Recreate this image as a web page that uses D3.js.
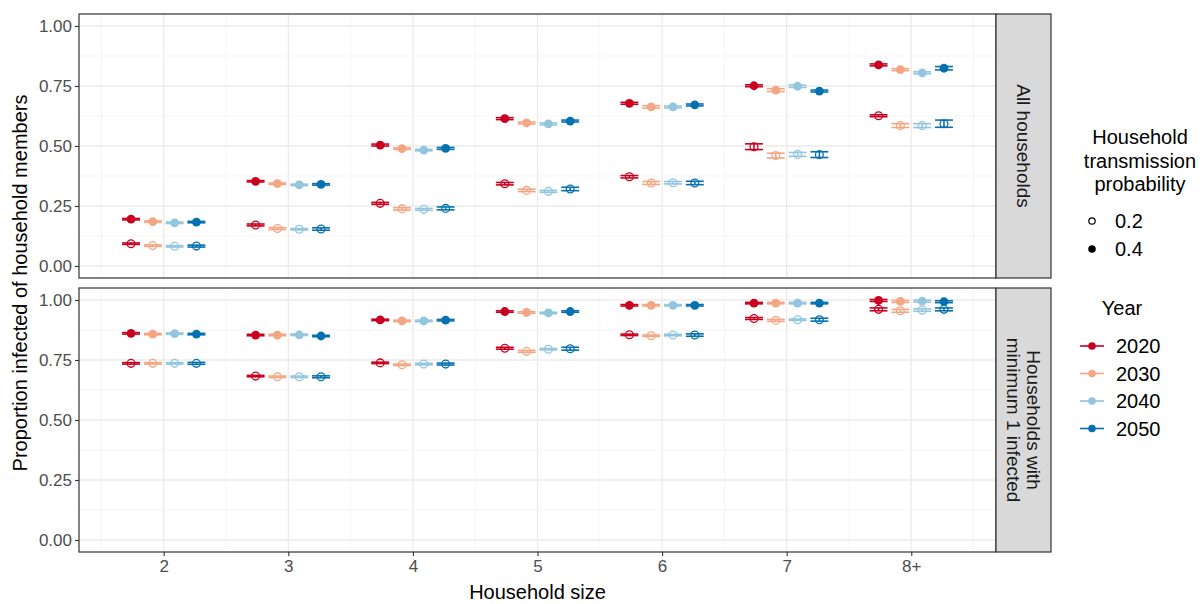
<!DOCTYPE html>
<html>
<head>
<meta charset="utf-8">
<script src="https://cdn.jsdelivr.net/npm/d3@7"></script>
<style>
    body { margin: 0; background: #fff; }
    svg { font-family: "Liberation Sans", Arial, sans-serif; }
    .grid-major { stroke: #ebebeb; stroke-width: 1.3; }
    .grid-minor { stroke: #f3f3f3; stroke-width: 0.8; }
    .tick-label { fill: #4d4d4d; font-size: 17px; }
    .axis-title { fill: #000; font-size: 20px; }
    .strip-text { fill: #1a1a1a; font-size: 19px; }
    .legend-text { fill: #000; font-size: 20px; }
</style>
</head>
<body>
<svg id="chart" width="1203" height="604"></svg>
<script>
// Categories
const sizes = ['2', '3', '4', '5', '6', '7', '8+'];
const years = ['2020', '2030', '2040', '2050'];
const yearColors = ['#CA0020', '#F4A582', '#92C5DE', '#0571B0'];
const probs = ['0.2', '0.4'];
const panelLabels = [['All households'], ['Households with', 'minimum 1 infected']];
const yTicks = [0, 0.25, 0.5, 0.75, 1];

// Proportions, one row per year (2020, 2030, 2040, 2050), one column per household size
const allP02 = [
    [0.093, 0.171, 0.261, 0.343, 0.372, 0.497, 0.626],
    [0.085, 0.156, 0.238, 0.315, 0.346, 0.460, 0.585],
    [0.082, 0.153, 0.236, 0.311, 0.347, 0.465, 0.585],
    [0.083, 0.154, 0.240, 0.321, 0.346, 0.464, 0.593]
];
const allP04 = [
    [0.195, 0.353, 0.504, 0.614, 0.678, 0.751, 0.838],
    [0.185, 0.343, 0.489, 0.596, 0.663, 0.733, 0.818],
    [0.180, 0.338, 0.483, 0.592, 0.663, 0.749, 0.805],
    [0.183, 0.340, 0.490, 0.604, 0.671, 0.729, 0.824]
];
const min1P02 = [
    [0.736, 0.683, 0.738, 0.799, 0.855, 0.923, 0.961],
    [0.736, 0.680, 0.730, 0.786, 0.851, 0.915, 0.955],
    [0.736, 0.680, 0.733, 0.795, 0.854, 0.918, 0.958],
    [0.736, 0.680, 0.733, 0.797, 0.854, 0.918, 0.961]
];
const min1P04 = [
    [0.861, 0.854, 0.917, 0.952, 0.978, 0.987, 0.998],
    [0.858, 0.854, 0.913, 0.948, 0.978, 0.987, 0.994],
    [0.860, 0.855, 0.913, 0.946, 0.978, 0.987, 0.995],
    [0.858, 0.850, 0.916, 0.952, 0.978, 0.987, 0.993]
];

// Confidence interval half widths, same layout as above
const allP02Ci = [
    [0.003, 0.004, 0.004, 0.005, 0.005, 0.012, 0.004],
    [0.003, 0.004, 0.005, 0.005, 0.006, 0.010, 0.008],
    [0.003, 0.003, 0.004, 0.004, 0.005, 0.008, 0.008],
    [0.004, 0.005, 0.006, 0.007, 0.007, 0.012, 0.015]
];
const allP04Ci = [
    [0.003, 0.003, 0.004, 0.004, 0.004, 0.004, 0.004],
    [0.003, 0.003, 0.003, 0.004, 0.005, 0.006, 0.004],
    [0.003, 0.003, 0.003, 0.004, 0.004, 0.005, 0.004],
    [0.003, 0.003, 0.004, 0.004, 0.004, 0.004, 0.007]
];
const min1P02Ci = [
    [0.003, 0.003, 0.003, 0.004, 0.003, 0.004, 0.006],
    [0.003, 0.003, 0.003, 0.004, 0.003, 0.004, 0.006],
    [0.003, 0.003, 0.003, 0.003, 0.003, 0.003, 0.005],
    [0.004, 0.004, 0.004, 0.006, 0.005, 0.006, 0.006]
];
const min1P04Ci = [
    [0.003, 0.003, 0.003, 0.003, 0.003, 0.003, 0.004],
    [0.003, 0.003, 0.003, 0.003, 0.003, 0.003, 0.004],
    [0.003, 0.003, 0.003, 0.003, 0.003, 0.003, 0.004],
    [0.003, 0.003, 0.003, 0.003, 0.003, 0.003, 0.004]
];

// Flatten into rows: panel, prob, year, size, value, lo, hi
function buildRows(panel, prob, values, cis) {
    let rows = [];
    for (let y = 0; y < years.length; y++) {
        for (let s = 0; s < sizes.length; s++) {
            rows.push({
                panel: panel, prob: prob, year: y, size: s,
                value: values[y][s],
                lo: values[y][s] - cis[y][s],
                hi: values[y][s] + cis[y][s]
            });
        }
    }
    return rows;
}

const panelData = [
    buildRows(0, '0.2', allP02, allP02Ci).concat(buildRows(0, '0.4', allP04, allP04Ci)),
    buildRows(1, '0.2', min1P02, min1P02Ci).concat(buildRows(1, '0.4', min1P04, min1P04Ci))
];

// Layout
const panelLeft = 79, panelRight = 996;
const panelTops = [14, 288];
const panelHeight = 264;
const stripWidth = 55;
const dodgeWidth = 0.7;
const whisker = 0.072;

const svg = d3.select('#chart');

const xScale = d3.scaleLinear()
    .domain([-0.68, sizes.length - 1 + 0.68])
    .range([panelLeft, panelRight]);

const dodge = d => d.size + (d.year - (years.length - 1) / 2) * dodgeWidth / years.length;

function drawPanel(p) {
    const top = panelTops[p];
    const yScale = d3.scaleLinear()
        .domain([-0.05, 1.05])
        .range([top + panelHeight, top]);
    const g = svg.append('g');

    // minor grid lines
    const minorY = d3.range(-0.125 + 0.25, 1.05, 0.25);
    g.selectAll('.gy-minor').data(minorY).enter().append('line')
        .attr('class', 'grid-minor')
        .attr('x1', panelLeft).attr('x2', panelRight)
        .attr('y1', d => yScale(d)).attr('y2', d => yScale(d));
    const minorX = d3.range(-0.5, sizes.length, 1);
    g.selectAll('.gx-minor').data(minorX).enter().append('line')
        .attr('class', 'grid-minor')
        .attr('x1', d => xScale(d)).attr('x2', d => xScale(d))
        .attr('y1', top).attr('y2', top + panelHeight);
    // major grid lines
    g.selectAll('.gy-major').data(yTicks).enter().append('line')
        .attr('class', 'grid-major')
        .attr('x1', panelLeft).attr('x2', panelRight)
        .attr('y1', d => yScale(d)).attr('y2', d => yScale(d));
    g.selectAll('.gx-major').data(sizes.map((_, i) => i)).enter().append('line')
        .attr('class', 'grid-major')
        .attr('x1', d => xScale(d)).attr('x2', d => xScale(d))
        .attr('y1', top).attr('y2', top + panelHeight);

    const rows = panelData[p];

    // error bars
    const eb = g.selectAll('.errorbar').data(rows).enter().append('g')
        .attr('stroke', d => yearColors[d.year])
        .attr('stroke-width', 1.6)
        .attr('fill', 'none');
    eb.append('line')
        .attr('x1', d => xScale(dodge(d) - whisker)).attr('x2', d => xScale(dodge(d) + whisker))
        .attr('y1', d => yScale(d.lo)).attr('y2', d => yScale(d.lo));
    eb.append('line')
        .attr('x1', d => xScale(dodge(d) - whisker)).attr('x2', d => xScale(dodge(d) + whisker))
        .attr('y1', d => yScale(d.hi)).attr('y2', d => yScale(d.hi));
    eb.append('line')
        .attr('x1', d => xScale(dodge(d))).attr('x2', d => xScale(dodge(d)))
        .attr('y1', d => yScale(d.lo)).attr('y2', d => yScale(d.hi));

    // points: hollow for 0.2, filled for 0.4
    g.selectAll('.pt').data(rows).enter().append('circle')
        .attr('cx', d => xScale(dodge(d)))
        .attr('cy', d => yScale(d.value))
        .attr('r', d => d.prob === '0.2' ? 3.9 : 4.4)
        .attr('fill', d => d.prob === '0.2' ? 'none' : yearColors[d.year])
        .attr('stroke', d => yearColors[d.year])
        .attr('stroke-width', d => d.prob === '0.2' ? 1.3 : 0);

    // panel border
    g.append('rect')
        .attr('x', panelLeft).attr('y', top)
        .attr('width', panelRight - panelLeft).attr('height', panelHeight)
        .attr('fill', 'none').attr('stroke', '#333').attr('stroke-width', 1.2);

    // y axis ticks and labels
    const yAxis = g.append('g')
        .attr('transform', `translate(${panelLeft},0)`)
        .call(d3.axisLeft(yScale).tickValues(yTicks).tickFormat(d3.format('.2f')).tickSize(4).tickPadding(3));
    yAxis.select('.domain').remove();
    yAxis.selectAll('.tick line').attr('stroke', '#333').attr('stroke-width', 1.1);
    yAxis.selectAll('.tick text').attr('class', 'tick-label').attr('font-family', null).attr('font-size', null);

    // strip on the right
    g.append('rect')
        .attr('x', panelRight).attr('y', top)
        .attr('width', stripWidth).attr('height', panelHeight)
        .attr('fill', '#d9d9d9').attr('stroke', '#333').attr('stroke-width', 1.2);
    const lines = panelLabels[p];
    const cx = panelRight + stripWidth / 2, cy = top + panelHeight / 2;
    const strip = g.append('text')
        .attr('class', 'strip-text')
        .attr('text-anchor', 'middle')
        .attr('transform', `translate(${cx},${cy}) rotate(90)`);
    lines.forEach((line, i) => {
        strip.append('tspan')
            .attr('x', 0)
            .attr('y', (i - (lines.length - 1) / 2) * 20 + 7)
            .text(line);
    });
}

drawPanel(0);
drawPanel(1);

// x axis at the bottom of the lower panel
const bottom = panelTops[1] + panelHeight;
const xAxis = svg.append('g')
    .attr('transform', `translate(0,${bottom})`)
    .call(d3.axisBottom(xScale).tickValues(sizes.map((_, i) => i))
        .tickFormat(i => sizes[i]).tickSize(4).tickPadding(4));
xAxis.select('.domain').remove();
xAxis.selectAll('.tick line').attr('stroke', '#333').attr('stroke-width', 1.1);
xAxis.selectAll('.tick text').attr('class', 'tick-label').attr('font-family', null).attr('font-size', null);

// axis titles
svg.append('text')
    .attr('class', 'axis-title')
    .attr('text-anchor', 'middle')
    .attr('x', (panelLeft + panelRight) / 2)
    .attr('y', 599)
    .text('Household size');
svg.append('text')
    .attr('class', 'axis-title')
    .attr('text-anchor', 'middle')
    .attr('transform', `translate(27,${(panelTops[0] + bottom) / 2}) rotate(-90)`)
    .text('Proportion infected of household members');

// legend: transmission probability
const probTitle = ['Household', 'transmission', 'probability'];
svg.selectAll('.prob-title').data(probTitle).enter().append('text')
    .attr('class', 'legend-text')
    .attr('text-anchor', 'middle')
    .attr('x', 1140)
    .attr('y', (d, i) => 144 + i * 23.5)
    .text(d => d);
probs.forEach((pr, i) => {
    const y = 221 + i * 28;
    svg.append('circle')
        .attr('cx', 1092).attr('cy', y)
        .attr('r', pr === '0.2' ? 3.2 : 3.8)
        .attr('fill', pr === '0.2' ? '#fff' : '#000')
        .attr('stroke', '#000').attr('stroke-width', pr === '0.2' ? 1.2 : 0);
    svg.append('text')
        .attr('class', 'legend-text')
        .attr('x', 1115).attr('y', y + 7)
        .text(pr);
});

// legend: year
svg.append('text')
    .attr('class', 'legend-text')
    .attr('text-anchor', 'middle')
    .attr('x', 1122).attr('y', 315)
    .text('Year');
years.forEach((yr, i) => {
    const y = 346 + i * 27.5;
    svg.append('line')
        .attr('x1', 1080).attr('x2', 1104)
        .attr('y1', y).attr('y2', y)
        .attr('stroke', yearColors[i]).attr('stroke-width', 1.6);
    svg.append('circle')
        .attr('cx', 1092).attr('cy', y).attr('r', 3.8)
        .attr('fill', yearColors[i]);
    svg.append('text')
        .attr('class', 'legend-text')
        .attr('x', 1116).attr('y', y + 7)
        .text(yr);
});
</script>
</body>
</html>
